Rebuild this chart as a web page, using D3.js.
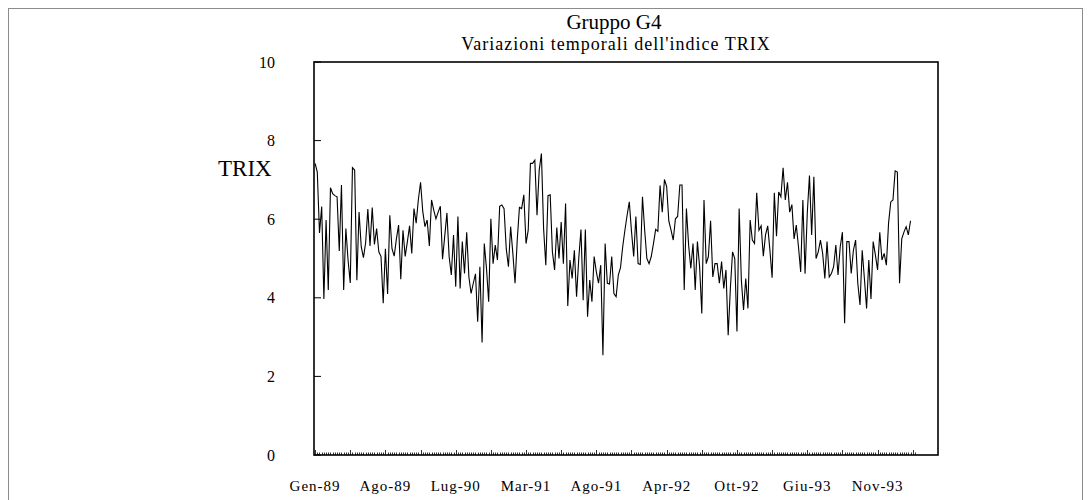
<!DOCTYPE html>
<html>
<head>
<meta charset="utf-8">
<script src="https://cdn.jsdelivr.net/npm/d3@7"></script>
<style>
  body { margin: 0; background: #fff; }
  svg { display: block; font-family: "Liberation Serif", "Times New Roman", serif; }
</style>
</head>
<body>
<svg id="chart" width="1091" height="500"></svg>
<script>
// TRIX values, one per sampling date
const trix = [
  7.42, 7.2, 5.65, 6.32, 3.97, 5.98, 4.2, 6.8, 6.65, 6.6, 6.57, 5.19, 6.87, 4.2, 5.76, 4.96, 4.38, 7.31, 7.25, 4.45,
  6.18, 5.3, 5.02, 5.4, 6.26, 5.32, 6.3, 5.36, 5.76, 5.17, 5.05, 3.86, 5.25, 4.1, 6.1, 5.25, 5.06, 5.5, 5.85, 4.47,
  5.72, 5.05, 5.43, 5.83, 5.13, 6.27,
  5.9, 6.5, 6.94, 6.2, 5.81, 5.98, 5.32, 6.49, 6.23, 6.01, 6.18, 6.33, 4.98, 5.57, 6.16, 5.05, 4.58, 5.6, 4.28, 6.07,
  4.24, 5.43, 4.62, 5.67, 4.53, 4.11, 4.37, 4.61, 3.39, 4.79, 2.86, 5.38, 4.75, 3.9, 6.01, 4.87, 5.34, 4.96, 6.33, 6.36,
  6.27, 5.25, 4.79, 5.81, 5.13, 4.37, 5.47, 6.3,
  6.27, 6.62, 5.38, 5.72, 7.42, 7.42, 7.5, 6.1, 7.25, 7.67, 5.76, 4.83, 6.6, 6.62, 5.17, 4.71, 5.79, 5.0, 5.93, 4.87,
  6.4, 3.79, 4.96, 4.49, 5.21, 4.03, 5.0, 5.74, 3.94, 5.74, 3.52, 4.45, 3.9, 5.05, 4.66, 4.37, 4.83, 2.54, 5.38, 4.37,
  4.35, 5.05, 4.11, 4.03, 4.58, 4.77, 5.3, 5.72,
  6.1, 6.44, 5.69, 5.05, 6.07, 4.87, 4.85, 6.57, 5.72, 5.0, 4.87, 5.05, 5.38, 5.74, 5.69, 6.86, 6.18, 7.01, 6.83, 5.95,
  5.72, 5.47, 6.01, 6.07, 6.87, 6.87, 4.2, 6.27, 5.34, 4.75, 5.38, 4.2, 5.43, 4.79, 3.6, 6.49, 4.87, 5.05, 5.96, 4.53,
  4.87, 4.87, 4.37, 4.92, 4.24, 4.71, 3.05,
  4.24, 5.17, 5.0, 3.14, 6.27, 4.45, 3.69, 4.49, 3.73, 5.98, 5.47, 5.38, 6.67, 5.72, 5.83, 5.06, 5.6, 5.83, 5.21, 4.51,
  6.67, 5.57, 6.69, 6.57, 7.31, 6.49, 6.94, 6.18, 6.37, 5.5, 5.85, 5.3, 4.66, 6.49, 4.61, 6.15, 7.11, 5.6, 7.08, 5.0,
  5.17, 5.47, 5.13, 4.49, 5.43, 4.53, 4.62, 4.79,
  5.34, 4.58, 5.3, 5.67, 3.35, 5.43, 5.43, 4.62, 5.21, 5.47, 4.37, 3.82, 5.21, 4.49, 3.73, 4.96, 3.97, 5.43, 5.09, 4.71,
  5.67, 4.96, 5.13, 4.83, 5.9, 6.44, 6.49, 7.23, 7.2, 4.37, 5.5, 5.67, 5.81, 5.6, 5.96
];

// category labels, one every 32 sampling dates
const xLabels = ["Gen-89", "Ago-89", "Lug-90", "Mar-91", "Ago-91", "Apr-92", "Ott-92", "Giu-93", "Nov-93"];
const labelStep = 32;
const nSlots = 284;          // category slots on the axis
const yTicks = [0, 2, 4, 6, 8, 10];

const svg = d3.select("#chart");
const frame = {left: 314, right: 938, top: 62, bottom: 455};

// outer border of the picture
svg.append("rect")
  .attr("x", 8.5).attr("y", 8.5)
  .attr("width", 1074).attr("height", 520)
  .attr("fill", "none").attr("stroke", "#8c8c8c").attr("stroke-width", 1);

const x = d3.scaleLinear()
  .domain([-0.5, nSlots - 0.5])
  .range([frame.left, frame.right]);

const y = d3.scaleLinear()
  .domain([0, 10])
  .range([frame.bottom, frame.top]);

// titles
svg.append("text")
  .attr("x", 614).attr("y", 29)
  .attr("text-anchor", "middle")
  .attr("font-size", 21)
  .text("Gruppo G4");

svg.append("text")
  .attr("x", 616).attr("y", 50)
  .attr("text-anchor", "middle")
  .attr("font-size", 18)
  .attr("letter-spacing", 1)
  .text("Variazioni temporali dell'indice TRIX");

// y axis title
svg.append("text")
  .attr("x", 218).attr("y", 176)
  .attr("font-size", 23)
  .text("TRIX");

// y ticks (inside) and labels
svg.append("g")
  .selectAll("line")
  .data(yTicks)
  .join("line")
  .attr("x1", frame.left).attr("x2", frame.left + 7)
  .attr("y1", d => y(d)).attr("y2", d => y(d))
  .attr("stroke", "#000").attr("stroke-width", 1);

svg.append("g")
  .selectAll("text")
  .data(yTicks)
  .join("text")
  .attr("x", 275)
  .attr("y", d => y(d) + 5.5)
  .attr("text-anchor", "end")
  .attr("font-size", 16)
  .text(d => d);

// x ticks: one small tick per category, taller every 16
const tickIdx = d3.range(0, 274);
svg.append("g")
  .selectAll("line")
  .data(tickIdx)
  .join("line")
  .attr("x1", d => Math.round(x(d)) + 0.5).attr("x2", d => Math.round(x(d)) + 0.5)
  .attr("y1", frame.bottom)
  .attr("y2", d => frame.bottom - (d % 16 === 0 ? 5 : 2.5))
  .attr("stroke", "#000").attr("stroke-width", 0.8);

svg.append("g")
  .selectAll("text")
  .data(xLabels)
  .join("text")
  .attr("x", (d, i) => x(i * labelStep))
  .attr("y", 491)
  .attr("text-anchor", "middle")
  .attr("font-size", 15)
  .attr("letter-spacing", 1)
  .text(d => d);

// the series
const line = d3.line()
  .x((d, i) => x(i))
  .y(d => y(d));

svg.append("path")
  .datum(trix)
  .attr("d", line)
  .attr("fill", "none")
  .attr("stroke", "#000")
  .attr("stroke-width", 1.1)
  .attr("stroke-linejoin", "miter");

// plot frame
svg.append("rect")
  .attr("x", frame.left).attr("y", frame.top)
  .attr("width", frame.right - frame.left)
  .attr("height", frame.bottom - frame.top)
  .attr("fill", "none")
  .attr("stroke", "#000")
  .attr("stroke-width", 1.6);
</script>
</body>
</html>
